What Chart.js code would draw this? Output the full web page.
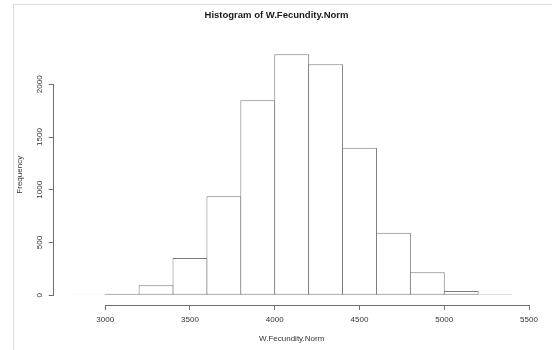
<!DOCTYPE html>
<html><head><meta charset="utf-8">
<script src="https://cdn.jsdelivr.net/npm/chart.js@4/dist/chart.umd.min.js"></script>
<style>
html,body{margin:0;padding:0;background:#fff;}
#wrap{position:relative;width:552px;height:350px;overflow:hidden;}
#frame{position:absolute;left:13px;top:4px;width:560px;height:360px;border-left:1px solid #dcdcdc;border-top:1px solid #dcdcdc;}
canvas{position:absolute;left:0;top:0;}
</style></head><body>
<div id="wrap"><div id="frame"></div><canvas id="c" width="552" height="350"></canvas></div>
<script>
// Histogram bins (centres of 200-wide bins from 2800 to 5400) and counts
const binCenters = [2900, 3100, 3300, 3500, 3700, 3900, 4100, 4300, 4500, 4700, 4900, 5100, 5300];
const frequencies = [3, 15, 95, 354, 938, 1848, 2285, 2190, 1399, 593, 218, 41, 10];
const xTicks = [3000, 3500, 4000, 4500, 5000, 5500];
const yTicks = [0, 500, 1000, 1500, 2000];
const chartTitle = 'Histogram of W.Fecundity.Norm';
const xTitle = 'W.Fecundity.Norm';
const yTitle = 'Frequency';

const FONT = '"Liberation Sans", Arial, sans-serif';
const AXIS_COLOR = '#6f6f6f';
const TEXT_COLOR = '#333';

const points = binCenters.map((c, i) => ({x: c, y: frequencies[i]}));

const axisLines = {
  id: 'axisLines',
  afterDraw(chart) {
    const {ctx, chartArea, scales: {x, y}} = chart;
    ctx.save();
    ctx.strokeStyle = AXIS_COLOR;
    ctx.lineWidth = 1;
    const yl = Math.round(chartArea.bottom) + 0.5;
    const xl = Math.round(chartArea.left) - 0.5;
    ctx.beginPath();
    ctx.moveTo(Math.round(x.getPixelForValue(xTicks[0])) + 0.5, yl);
    ctx.lineTo(Math.round(x.getPixelForValue(xTicks[xTicks.length - 1])) + 0.5, yl);
    ctx.moveTo(xl, Math.round(y.getPixelForValue(yTicks[0])) + 0.5);
    ctx.lineTo(xl, Math.round(y.getPixelForValue(yTicks[yTicks.length - 1])) + 0.5);
    ctx.stroke();
    ctx.restore();
  }
};

new Chart(document.getElementById('c'), {
  type: 'bar',
  data: {
    datasets: [{
      data: points,
      backgroundColor: '#ffffff',
      borderColor: '#7a7a7a',
      borderWidth: 1,
      borderSkipped: false,
      barPercentage: 1.03,
      categoryPercentage: 1.0
    }]
  },
  options: {
    responsive: false,
    animation: false,
    devicePixelRatio: 1,
    layout: {padding: {left: 23.3, right: 22.3, top: 0, bottom: 0}},
    plugins: {
      legend: {display: false},
      tooltip: {enabled: false},
      title: {
        display: true,
        text: chartTitle,
        color: '#1a1a1a',
        font: {family: FONT, size: 9.5, weight: 'bold', lineHeight: 1.2},
        padding: {top: 9.3, bottom: 23.9}
      }
    },
    scales: {
      x: {
        type: 'linear',
        min: 2696,
        max: 5504,
        offset: false,
        afterBuildTicks: s => { s.ticks = xTicks.map(v => ({value: v})); },
        afterFit: s => { s.height = 45.1; },
        grid: {display: true, offset: false, drawOnChartArea: false, drawTicks: true, tickLength: 5, color: AXIS_COLOR},
        border: {display: false},
        ticks: {
          color: TEXT_COLOR, padding: 5, maxRotation: 0, minRotation: 0, autoSkip: false,
          font: {family: FONT, size: 8},
          callback: v => String(v)
        },
        title: {display: true, text: xTitle, color: TEXT_COLOR, font: {family: FONT, size: 8}, padding: {top: 0, bottom: 6.2}}
      },
      y: {
        type: 'linear',
        min: -91,
        max: 2376,
        afterBuildTicks: s => { s.ticks = yTicks.map(v => ({value: v})); },
        afterFit: s => { s.width = 30.4; },
        grid: {display: true, drawOnChartArea: false, drawTicks: true, tickLength: 5, color: AXIS_COLOR},
        border: {display: false},
        ticks: {
          color: TEXT_COLOR, padding: 0, minRotation: 90, maxRotation: 90, crossAlign: 'center', autoSkip: false,
          font: {family: FONT, size: 8},
          callback: v => String(v)
        },
        title: {display: true, text: yTitle, color: TEXT_COLOR, font: {family: FONT, size: 8}, padding: {top: -8.1, bottom: 0}}
      }
    }
  },
  plugins: [axisLines]
});
</script>
</body></html>
